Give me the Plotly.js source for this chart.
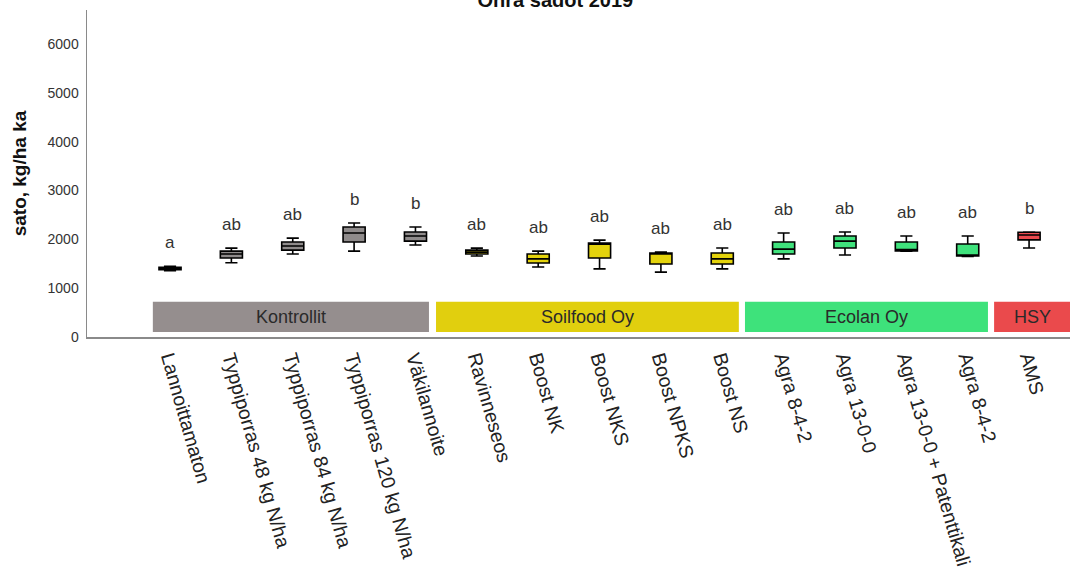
<!DOCTYPE html>
<html>
<head>
<meta charset="utf-8">
<script src="https://cdn.plot.ly/plotly-3.0.1.min.js"></script>
<style>
  html, body { margin: 0; padding: 0; background: #fff; }
  #chart { width: 1070px; height: 574px; }
</style>
</head>
<body>
<div id="chart"></div>
<script>
// Treatments, in plotting order
const treatments = [
  "Lannoittamaton", "Typpiporras 48 kg N/ha", "Typpiporras 84 kg N/ha",
  "Typpiporras 120 kg N/ha", "Väkilannoite",
  "Ravinneseos", "Boost NK", "Boost NKS", "Boost NPKS", "Boost NS",
  "Agra 8-4-2", "Agra 13-0-0", "Agra 13-0-0 + Patenttikali", "Agra 8-4-2",
  "AMS"
];

// Box statistics (kg/ha)
const lowerWhisker = [1360, 1520, 1700, 1760, 1885, 1660, 1435, 1395, 1330, 1395, 1600, 1680, 1760, 1650, 1825];
const q1Values     = [1380, 1620, 1780, 1945, 1965, 1700, 1515, 1620, 1495, 1495, 1700, 1825, 1765, 1660, 1990];
const medianValues = [1400, 1700, 1865, 2130, 2070, 1740, 1600, 1900, 1700, 1600, 1800, 1965, 1790, 1680, 2090];
const q3Values     = [1430, 1760, 1945, 2255, 2150, 1780, 1700, 1925, 1720, 1720, 1945, 2070, 1945, 1905, 2145];
const upperWhisker = [1450, 1820, 2025, 2335, 2255, 1820, 1760, 1985, 1740, 1825, 2130, 2150, 2070, 2070, 2150];

// Significance letters
const sigLetters = ["a", "ab", "ab", "b", "b", "ab", "ab", "ab", "ab", "ab", "ab", "ab", "ab", "ab", "b"];

// Supplier groups and how many treatments belong to each
const groupNames  = ["Kontrollit", "Soilfood Oy", "Ecolan Oy", "HSY"];
const groupSizes  = [5, 5, 4, 1];
const groupFills  = ["#8f8b8b", "#e4d30c", "#3fe27c", "#ea4a4e"];
const bandFills   = ["#958e8e", "#e1cf0e", "#3ee27b", "#ea4a4c"];

const positions = treatments.map((_, i) => i);

// one box trace per supplier group
const traces = [];
let start = 0;
groupNames.forEach((g, gi) => {
  const idx = positions.slice(start, start + groupSizes[gi]);
  traces.push({
    type: "box",
    name: g,
    x: idx,
    q1: idx.map(i => q1Values[i]),
    median: idx.map(i => medianValues[i]),
    q3: idx.map(i => q3Values[i]),
    lowerfence: idx.map(i => lowerWhisker[i]),
    upperfence: idx.map(i => upperWhisker[i]),
    width: 0.36,
    whiskerwidth: 0.55,
    fillcolor: groupFills[gi],
    line: { color: "#000", width: 1.6 },
    boxpoints: false,
    hoverinfo: "skip",
    showlegend: false
  });
  start += groupSizes[gi];
});

// band spans along the category axis (axis units)
const bandSpans = [[-0.28, 4.22], [4.335, 9.27], [9.37, 13.33], [13.43, 14.9]];

const shapes = bandSpans.map((s, gi) => ({
  type: "rect", xref: "x", yref: "y",
  x0: s[0], x1: s[1], y0: 100, y1: 720,
  fillcolor: bandFills[gi], line: { width: 0 }, layer: "below"
}));

const annotations = [];
bandSpans.forEach((s, gi) => {
  annotations.push({
    xref: "x", yref: "y",
    x: gi === 3 ? (s[0] + 14.667) / 2 : (s[0] + s[1]) / 2,
    y: 400,
    text: groupNames[gi],
    showarrow: false,
    font: { family: "Liberation Sans, Arial, sans-serif", size: 18, color: "#2a2a2a" }
  });
});
positions.forEach(i => {
  annotations.push({
    xref: "x", yref: "y",
    x: i, y: upperWhisker[i],
    yanchor: "bottom",
    yshift: 12,
    text: sigLetters[i],
    showarrow: false,
    font: { family: "Liberation Sans, Arial, sans-serif", size: 17, color: "#333" }
  });
});

const layout = {
  width: 1070, height: 574,
  margin: { l: 87, r: 0, t: 10, b: 237 },
  paper_bgcolor: "#fff", plot_bgcolor: "#fff",
  boxmode: "overlay",
  title: {
    text: "<b>Ohra sadot 2019</b>",
    xref: "container", x: 0.519, xanchor: "center",
    yref: "container", y: 1, yanchor: "middle",
    font: { family: "Liberation Sans, Arial, sans-serif", size: 20, color: "#111" }
  },
  xaxis: {
    type: "linear",
    range: [-1.353, 14.667],
    tickmode: "array",
    tickvals: positions,
    ticktext: treatments,
    tickangle: 74,
    ticks: "",
    showgrid: false, zeroline: false,
    showline: true, linecolor: "#8a8a8a", linewidth: 2,
    tickfont: { family: "Liberation Sans, Arial, sans-serif", size: 19.5, color: "#222" }
  },
  yaxis: {
    range: [0, 6700],
    tickvals: [0, 1000, 2000, 3000, 4000, 5000, 6000],
    ticks: "",
    showgrid: false, zeroline: false,
    showline: true, linecolor: "#8a8a8a", linewidth: 1.5,
    ticklabelstandoff: 4,
    tickfont: { family: "Liberation Sans, Arial, sans-serif", size: 14, color: "#333" },
    title: {
      text: "<b>sato, kg/ha ka</b>",
      standoff: 16,
      font: { family: "Liberation Sans, Arial, sans-serif", size: 19, color: "#111" }
    }
  },
  shapes: shapes,
  annotations: annotations
};

Plotly.newPlot("chart", traces, layout, { displayModeBar: false, staticPlot: true });
</script>
</body>
</html>
